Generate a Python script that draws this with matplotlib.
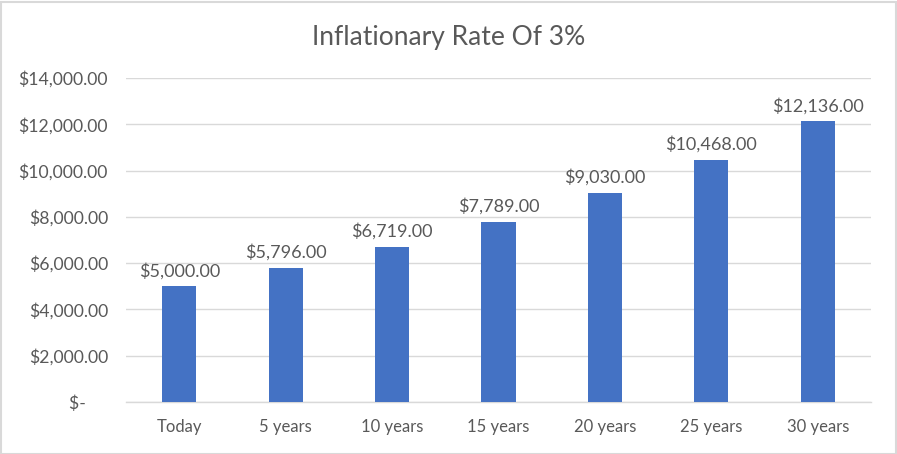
import matplotlib
matplotlib.use("Agg")
import matplotlib.pyplot as plt
from matplotlib.ticker import FixedLocator, FixedFormatter
from matplotlib.patches import Rectangle

categories = ["Today", "5 years", "10 years", "15 years", "20 years", "25 years", "30 years"]
values = [5000, 5796, 6719, 7789, 9030, 10468, 12136]
yticks = [0, 2000, 4000, 6000, 8000, 10000, 12000, 14000]
ytick_labels = ["$-     ", "$2,000.00", "$4,000.00", "$6,000.00", "$8,000.00",
                "$10,000.00", "$12,000.00", "$14,000.00"]
title = "Inflationary Rate Of 3%"

plt.rcParams['font.family'] = ['Lato', 'DejaVu Sans']
text_color = "#595959"
W, H = 897, 454
fig = plt.figure(figsize=(W / 100, H / 100), dpi=100)
fig.patches.append(Rectangle((0.5 / W, 0.5 / H), 1 - 2 / W, 1 - 2 / H, transform=fig.transFigure,
                             fill=False, edgecolor="#D9D9D9", linewidth=1.5))
ax = fig.add_axes([126 / W, (H - 402) / H, (871 - 126) / W, (402 - 78) / H])
x = list(range(len(categories)))
ax.bar(x, values, width=0.32, color="#4472C4", zorder=3)
for xi, v in zip(x, values):
    ax.annotate(f"${v:,.2f}", (xi, v), xytext=(0, 5), textcoords="offset points",
                ha="center", va="bottom", fontsize=13, color=text_color)
ax.set_xlim(-0.5, len(categories) - 0.5)
ax.set_ylim(0, 14000)
ax.yaxis.set_major_locator(FixedLocator(yticks))
ax.yaxis.set_major_formatter(FixedFormatter(ytick_labels))
ax.set_xticks(x)
ax.set_xticklabels(categories)
ax.grid(axis="y", color="#D9D9D9", linewidth=1, zorder=0)
for s in ["top", "right", "left"]:
    ax.spines[s].set_visible(False)
ax.spines["bottom"].set_color("#D9D9D9")
ax.spines["bottom"].set_linewidth(1)
ax.tick_params(axis="both", length=0, labelcolor=text_color)
ax.tick_params(axis="y", pad=13, labelsize=12.7)
ax.tick_params(axis="x", pad=12, labelsize=12)
fig.text(0.5, 1 - 38 / H, title, ha="center", va="center",
         fontsize=19, color=text_color)
fig.savefig("out.png", dpi=100)
